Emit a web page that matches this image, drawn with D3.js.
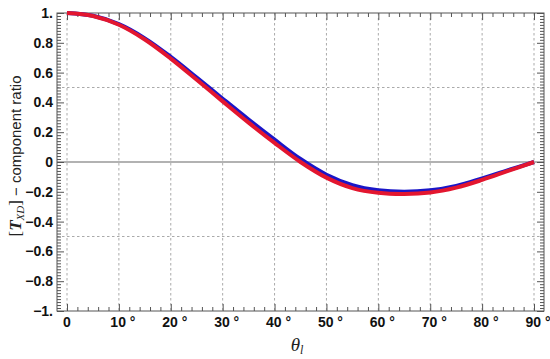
<!DOCTYPE html>
<html>
<head>
<meta charset="utf-8">
<script src="https://cdn.jsdelivr.net/npm/d3@7"></script>
<style>
  body { margin: 0; background: #fff; }
  svg { display: block; }
</style>
</head>
<body>
<svg id="chart" width="550" height="359"></svg>
<script>
// values
var theta = [0, 5, 10, 15, 20, 25, 30, 35, 40, 45, 50, 55, 60, 65, 70, 75, 80, 85, 90];
var blueRatio = [1.0, 0.981, 0.925, 0.83, 0.706, 0.567, 0.425, 0.285, 0.15, 0.02, -0.085, -0.155, -0.19, -0.2, -0.19, -0.16, -0.11, -0.055, 0];
var redRatio = [1.0, 0.98, 0.921, 0.822, 0.694, 0.552, 0.407, 0.264, 0.128, 0.0, -0.105, -0.175, -0.207, -0.215, -0.205, -0.172, -0.12, -0.06, 0];
var xTicks = [0, 10, 20, 30, 40, 50, 60, 70, 80, 90];
var yTicks = [-1, -0.8, -0.6, -0.4, -0.2, 0, 0.2, 0.4, 0.6, 0.8, 1];
var yGrid = [-0.5, 0.5];

const FRAME_LEFT = 57;
const FRAME_RIGHT = 544;
const FRAME_TOP = 13;
const FRAME_BOTTOM = 311;
const TICK_FONT = "'Liberation Sans', Arial, sans-serif";
const SERIF_FONT = "'Liberation Serif', 'Times New Roman', serif";
const FRAME_COLOR = "#555";

var svg = d3.select("#chart");

// x: 0 deg sits at 67, 90 deg at 534
var x = d3.scaleLinear().domain([0, 90]).range([67, 534]);
var y = d3.scaleLinear().domain([-1, 1]).range([FRAME_BOTTOM, FRAME_TOP]);

// grid
svg.append("g").selectAll("line")
   .data(xTicks)
   .enter().append("line")
   .attr("x1", function(d) { return x(d); })
   .attr("x2", function(d) { return x(d); })
   .attr("y1", FRAME_TOP)
   .attr("y2", FRAME_BOTTOM)
   .attr("stroke", "#aaa")
   .attr("stroke-dasharray", "2.5,2.5");
svg.append("g").selectAll("line")
   .data(yGrid)
   .enter().append("line")
   .attr("x1", FRAME_LEFT)
   .attr("x2", FRAME_RIGHT)
   .attr("y1", function(d) { return y(d); })
   .attr("y2", function(d) { return y(d); })
   .attr("stroke", "#aaa")
   .attr("stroke-dasharray", "2.5,2.5");

// zero axis
svg.append("line")
   .attr("x1", FRAME_LEFT).attr("x2", FRAME_RIGHT)
   .attr("y1", y(0)).attr("y2", y(0))
   .attr("stroke", "#666").attr("stroke-width", 1.2);

// frame ticks (all inward)
var xMinor = d3.range(0, 91, 2).filter(function(d) { return d % 10 !== 0; });
var yMinor = d3.range(-50, 51).map(function(d) { return d / 50; })
               .filter(function(d) { return Math.abs(d * 5 - Math.round(d * 5)) > 1e-6; });

function styleAxis(g) {
   g.select(".domain").remove();
   g.selectAll("line").attr("stroke", FRAME_COLOR);
}

svg.append("g").attr("transform", "translate(0," + FRAME_BOTTOM + ")")
   .call(d3.axisBottom(x).tickValues(xTicks).tickSize(-7).tickFormat("")).call(styleAxis);
svg.append("g").attr("transform", "translate(0," + FRAME_TOP + ")")
   .call(d3.axisTop(x).tickValues(xTicks).tickSize(-7).tickFormat("")).call(styleAxis);
svg.append("g").attr("transform", "translate(" + FRAME_LEFT + ",0)")
   .call(d3.axisLeft(y).tickValues(yTicks).tickSize(-7).tickFormat("")).call(styleAxis);
svg.append("g").attr("transform", "translate(" + FRAME_RIGHT + ",0)")
   .call(d3.axisRight(y).tickValues(yTicks).tickSize(-7).tickFormat("")).call(styleAxis);

svg.append("g").attr("transform", "translate(0," + FRAME_BOTTOM + ")")
   .call(d3.axisBottom(x).tickValues(xMinor).tickSize(-4).tickFormat("")).call(styleAxis);
svg.append("g").attr("transform", "translate(0," + FRAME_TOP + ")")
   .call(d3.axisTop(x).tickValues(xMinor).tickSize(-4).tickFormat("")).call(styleAxis);
svg.append("g").attr("transform", "translate(" + FRAME_LEFT + ",0)")
   .call(d3.axisLeft(y).tickValues(yMinor).tickSize(-4).tickFormat("")).call(styleAxis);
svg.append("g").attr("transform", "translate(" + FRAME_RIGHT + ",0)")
   .call(d3.axisRight(y).tickValues(yMinor).tickSize(-4).tickFormat("")).call(styleAxis);

// frame
svg.append("rect")
   .attr("x", FRAME_LEFT).attr("y", FRAME_TOP)
   .attr("width", FRAME_RIGHT - FRAME_LEFT)
   .attr("height", FRAME_BOTTOM - FRAME_TOP)
   .attr("fill", "none")
   .attr("stroke", FRAME_COLOR);

// tick labels
svg.append("g").selectAll("text")
   .data(xTicks)
   .enter().append("text")
   .attr("x", function(d) { return x(d) + (d === 0 ? 0 : 4); })
   .attr("y", 327)
   .attr("text-anchor", "middle")
   .attr("font-family", TICK_FONT)
   .attr("font-weight", "bold")
   .attr("font-size", "14px")
   .attr("fill", "#111")
   .text(function(d) { return d === 0 ? "0" : d + " \u00b0"; });

svg.append("g").selectAll("text")
   .data(yTicks)
   .enter().append("text")
   .attr("x", 53)
   .attr("y", function(d) { return y(d); })
   .attr("dy", "0.35em")
   .attr("text-anchor", "end")
   .attr("font-family", TICK_FONT)
   .attr("font-weight", "bold")
   .attr("font-size", "14px")
   .attr("fill", "#111")
   .text(function(d) {
      if (d === 0) return "0";
      var s = Math.abs(d) === 1 ? "1." : d3.format(".1f")(Math.abs(d));
      return (d < 0 ? "\u2212" : "") + s;
   });

// curves, red drawn over blue
var line = d3.line().curve(d3.curveCatmullRom.alpha(0.5));
svg.append("path")
   .attr("d", line(theta.map(function(t, i) { return [x(t), y(blueRatio[i])]; })))
   .attr("fill", "none")
   .attr("stroke", "#1a16c8")
   .attr("stroke-width", 4);
svg.append("path")
   .attr("d", line(theta.map(function(t, i) { return [x(t), y(redRatio[i])]; })))
   .attr("fill", "none")
   .attr("stroke", "#e3162f")
   .attr("stroke-width", 4);

// axis titles
var yLabel = svg.append("text")
   .attr("transform", "translate(21,156) rotate(-90)")
   .attr("text-anchor", "middle")
   .attr("font-family", TICK_FONT)
   .attr("font-size", "15px")
   .attr("fill", "#222");
yLabel.append("tspan").attr("font-family", SERIF_FONT).attr("font-size", "17px").text("[");
yLabel.append("tspan").attr("font-family", SERIF_FONT).attr("font-style", "italic")
      .attr("font-weight", "bold").attr("font-size", "17px").text("T");
yLabel.append("tspan").attr("font-family", SERIF_FONT).attr("font-style", "italic")
      .attr("font-size", "11px").attr("dy", 3).text("XD");
yLabel.append("tspan").attr("font-family", SERIF_FONT).attr("font-size", "17px").attr("dy", -3).text("]");
yLabel.append("tspan").text(" \u2212 component ratio");

var xLabel = svg.append("text")
   .attr("x", 297)
   .attr("y", 351)
   .attr("text-anchor", "middle")
   .attr("font-family", SERIF_FONT)
   .attr("font-style", "italic")
   .attr("font-size", "19px")
   .attr("fill", "#222");
xLabel.append("tspan").text("\u03b8");
xLabel.append("tspan").attr("font-size", "12px").attr("dy", 3).text("l");
</script>
</body>
</html>
